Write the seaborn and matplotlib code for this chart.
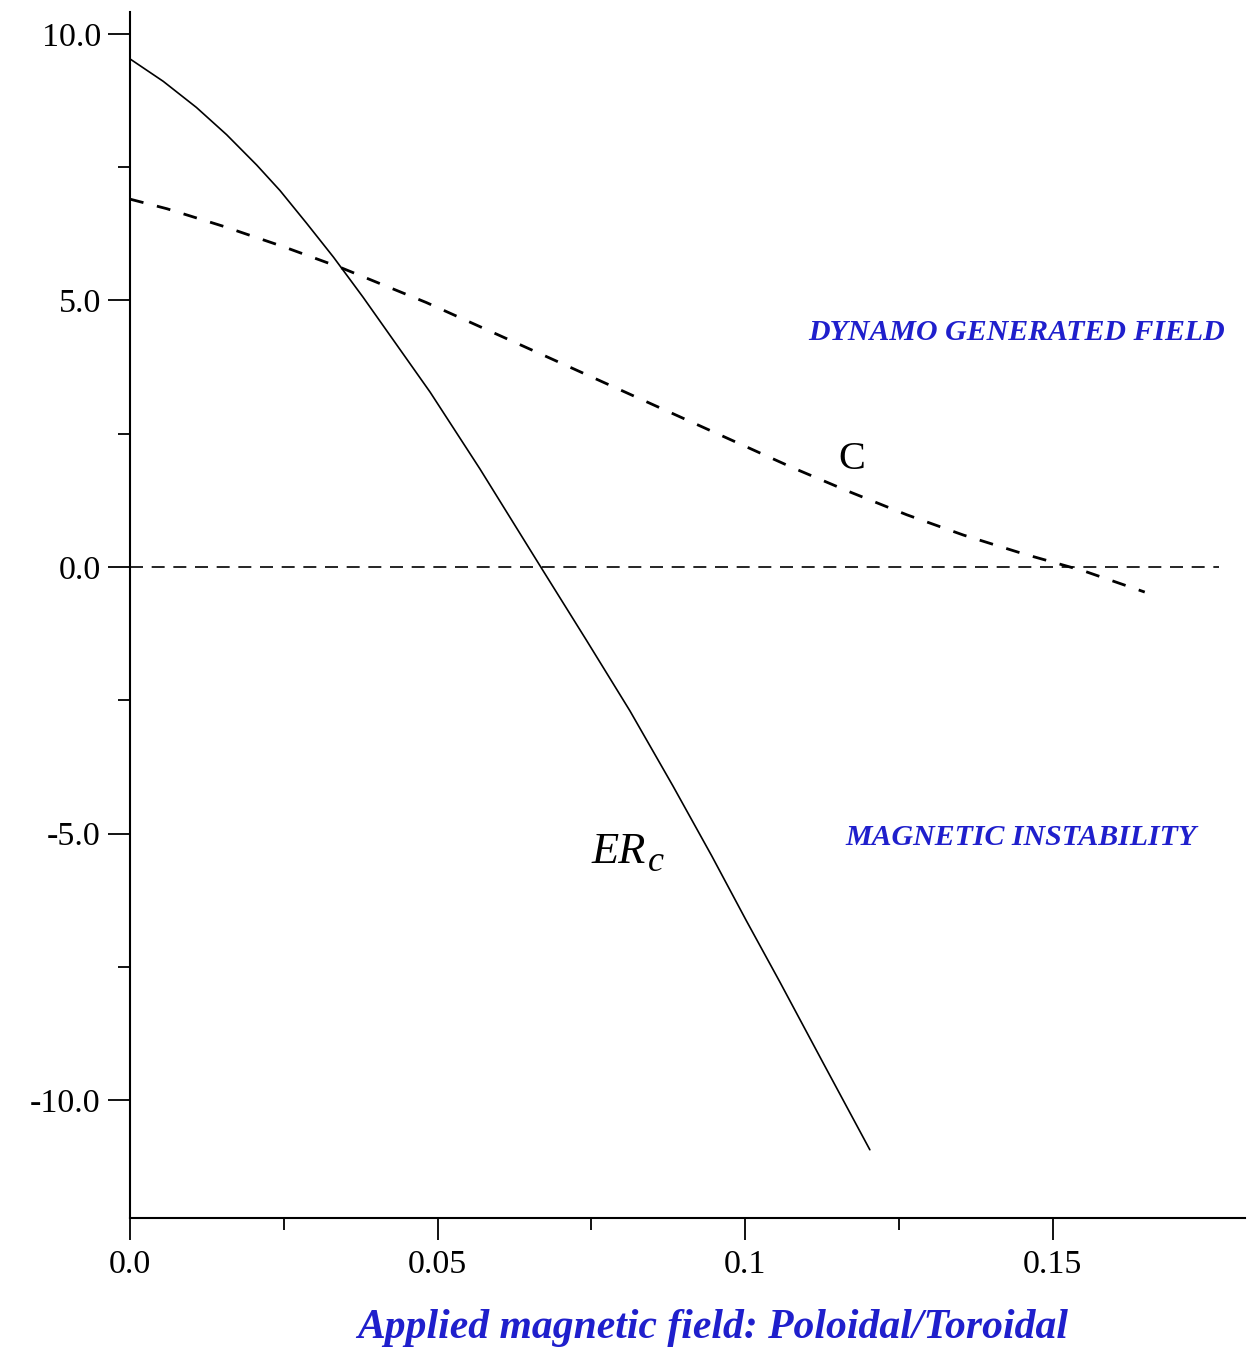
import matplotlib
matplotlib.use("Agg")
import matplotlib.pyplot as plt
import seaborn as sns
import pandas as pd

# Critical curve ER_c versus applied field ratio
er_x = [0, 0.0054, 0.0108, 0.0157, 0.0206, 0.0244, 0.0287, 0.0331, 0.0379, 0.0488,
        0.0569, 0.0669, 0.0742, 0.0813, 0.0883, 0.0946, 0.1002, 0.1057, 0.1127, 0.1203]
er_y = [9.53, 9.11, 8.62, 8.11, 7.54, 7.06, 6.45, 5.81, 5.06, 3.28,
        1.84, -0.02, -1.37, -2.70, -4.11, -5.42, -6.63, -7.79, -9.30, -10.93]

# Curve C
c_x = [0, 0.0060, 0.0152, 0.0249, 0.0344, 0.0482, 0.0667, 0.1078, 0.1168, 0.1263,
       0.1355, 0.1452, 0.1550, 0.1650]
c_y = [6.90, 6.72, 6.39, 6.01, 5.61, 4.96, 4.00, 1.86, 1.42, 0.98,
       0.60, 0.25, -0.07, -0.47]

# Zero reference line
zero_x = [0.0, 0.177]
zero_y = [0.0, 0.0]

x_ticks = [0.0, 0.05, 0.1, 0.15]
x_tick_labels = ["0.0", "0.05", "0.1", "0.15"]
x_minor = [0.025, 0.075, 0.125]
y_ticks = [10.0, 5.0, 0.0, -5.0, -10.0]
y_tick_labels = ["10.0", "5.0", "0.0", "-5.0", "-10.0"]
y_minor = [7.5, 2.5, -2.5, -7.5]

sns.set_theme(style="white")
plt.rcParams["font.family"] = ["Liberation Serif", "DejaVu Serif"]

W, H = 1247, 1351
fig = plt.figure(figsize=(W / 100, H / 100), dpi=100)
ax = fig.add_axes([130 / W, (H - 1218) / H, (1245 - 130) / W, (1218 - 12) / H])

er_df = pd.DataFrame({"x": er_x, "y": er_y})
c_df = pd.DataFrame({"x": c_x, "y": c_y})
z_df = pd.DataFrame({"x": zero_x, "y": zero_y})

sns.lineplot(data=z_df, x="x", y="y", ax=ax, color="black", lw=1.2,
             sort=False, estimator=None)
ax.lines[-1].set_dashes([7.8, 5.2])
sns.lineplot(data=er_df, x="x", y="y", ax=ax, color="black", lw=1.2,
             sort=False, estimator=None)
sns.lineplot(data=c_df, x="x", y="y", ax=ax, color="black", lw=2.0,
             sort=False, estimator=None)
ax.lines[-1].set_dashes([5, 5])

ax.set_xlim(0, 0.1813)
ax.set_ylim(-12.21, 10.41)

for side in ["top", "right"]:
    ax.spines[side].set_visible(False)
for side in ["left", "bottom"]:
    ax.spines[side].set_color("black")
    ax.spines[side].set_linewidth(1.5)

ax.set_xticks(x_ticks)
ax.set_xticklabels(x_tick_labels)
ax.set_xticks(x_minor, minor=True)
ax.set_yticks(y_ticks)
ax.set_yticklabels(y_tick_labels)
ax.set_yticks(y_minor, minor=True)
ax.tick_params(which="major", direction="out", length=16, width=1.3,
               color="black", labelsize=24.5, labelcolor="black", pad=5,
               left=True, bottom=True)
ax.tick_params(which="minor", direction="out", length=8.5, width=1.3,
               color="black", left=True, bottom=True)
ax.tick_params(axis="x", which="major", pad=7)

blue = "#1f1fcc"
ax.set_xlabel("Applied magnetic field: Poloidal/Toroidal", color=blue,
              fontsize=30, fontstyle="italic", fontweight="bold")
ax.xaxis.set_label_coords(0.523, -0.091)
ax.xaxis.label.set_va("center")
ax.set_ylabel("")

ax.text(0.1442, 4.39, "DYNAMO GENERATED FIELD", color=blue, fontsize=21.5,
        fontstyle="italic", fontweight="bold", ha="center", va="center")
ax.text(0.1449, -5.08, "MAGNETIC INSTABILITY", color=blue, fontsize=21.5,
        fontstyle="italic", fontweight="bold", ha="center", va="center")
ax.text(0.1174, 2.01, "C", color="black", fontsize=29, ha="center", va="center")
ax.text(0.0751, -5.55, "ER", color="black", fontsize=32, fontstyle="italic",
        ha="left", va="baseline")
ax.text(0.0842, -5.70, "c", color="black", fontsize=26, fontstyle="italic",
        ha="left", va="baseline")

fig.savefig("out.png", dpi=100, facecolor="white")
